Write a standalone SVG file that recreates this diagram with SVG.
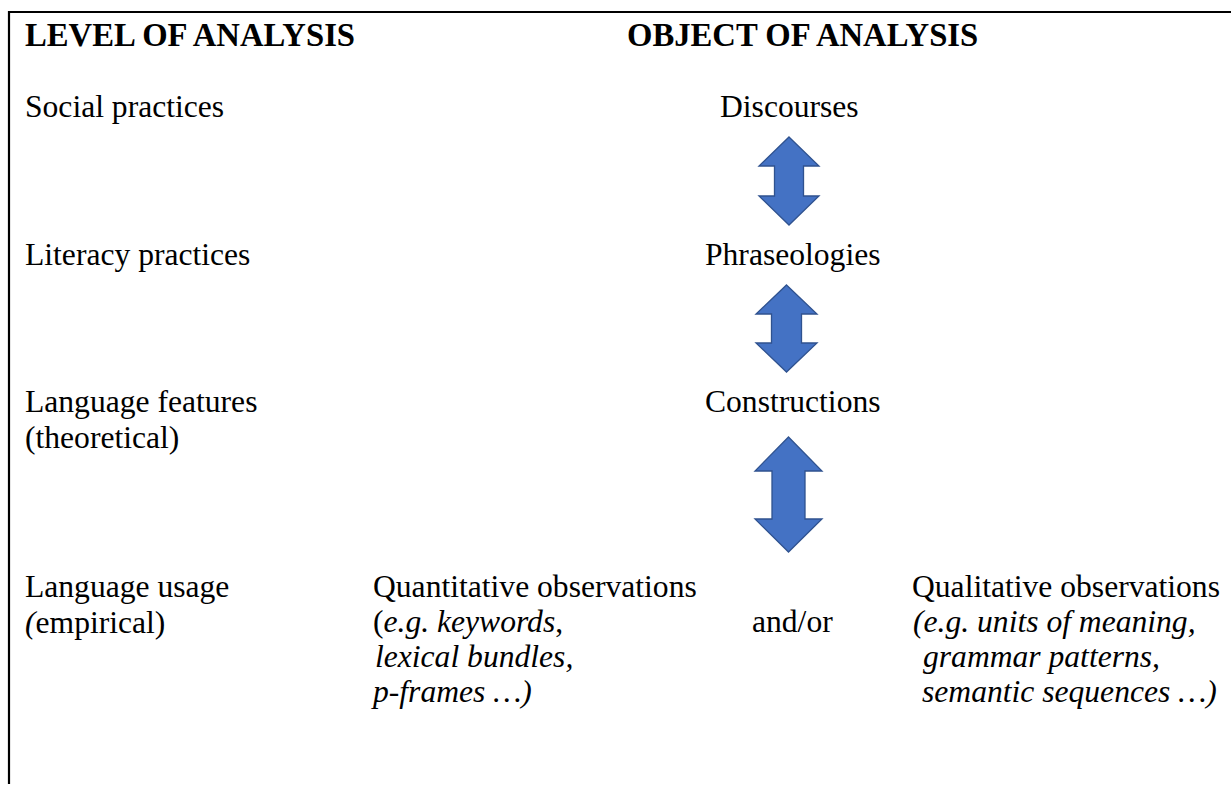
<svg xmlns="http://www.w3.org/2000/svg" width="1231" height="785" viewBox="0 0 1231 785">
<style>
text{font-family:"Liberation Serif","Times New Roman",serif;font-size:31.6px;fill:#000}
.b{font-weight:bold;font-size:32.7px}
.i{font-style:italic}
.arr{fill:#4472C4;stroke:#2F528F;stroke-width:1.3;stroke-linejoin:miter}
</style>
<rect width="1231" height="785" fill="#fff"/>
<g id="frame" stroke="#000" stroke-width="2.2" fill="none">
<line x1="8" y1="12" x2="1231" y2="12"/>
<line x1="9" y1="11" x2="9" y2="784"/>
</g>
<g id="headers">
<text class="b" x="25" y="46">LEVEL OF ANALYSIS</text>
<text class="b" x="627" y="46">OBJECT OF ANALYSIS</text>
</g>
<g id="level-social"><text x="25" y="117">Social practices</text></g>
<g id="level-literacy"><text x="25" y="265">Literacy practices</text></g>
<g id="level-features"><text x="25" y="412">Language features</text><text x="25" y="448">(theoretical)</text></g>
<g id="level-usage"><text x="25" y="597">Language usage</text><text x="25" y="633"><tspan class="i">(</tspan>empirical)</text></g>
<g id="obj-discourses"><text x="720" y="117">Discourses</text></g>
<g id="obj-phraseologies"><text x="705" y="265">Phraseologies</text></g>
<g id="obj-constructions"><text x="705" y="412">Constructions</text></g>
<g id="obj-quantitative">
<text x="373" y="597">Quantitative observations</text>
<text x="373" y="632">(<tspan class="i">e.g. keywords</tspan>,</text>
<text class="i" x="375" y="667">lexical bundles,</text>
<text class="i" x="373" y="702">p-frames …)</text>
</g>
<g id="and-or"><text x="752" y="632">and/or</text></g>
<g id="obj-qualitative">
<text x="912" y="597">Qualitative observations</text>
<text class="i" x="913" y="632">(e.g. units of meaning,</text>
<text class="i" x="923" y="667">grammar patterns,</text>
<text class="i" x="922" y="702">semantic sequences …)</text>
</g>
<g id="connectors">
<polygon class="arr" points="789,137 819,166 803.5,166 803.5,196 819,196 789,225 759,196 774.5,196 774.5,166 759,166"/>
<polygon class="arr" points="786.5,285 817,314 801.5,314 801.5,343 817,343 786.5,372 756,343 771.5,343 771.5,314 756,314"/>
<polygon class="arr" points="788.5,437 822,471 805,471 805,519 822,519 788.5,552 755,519 772,519 772,471 755,471"/>
</g>
</svg>
